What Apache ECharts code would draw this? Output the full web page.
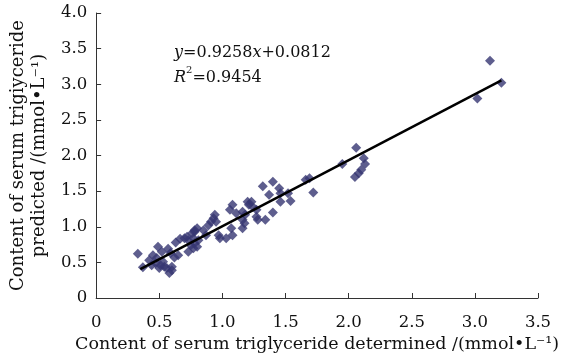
<!DOCTYPE html>
<html>
<head>
<meta charset="utf-8">
<script src="https://cdn.jsdelivr.net/npm/echarts@6/dist/echarts.min.js"></script>
<style>
  html, body { margin: 0; padding: 0; background: #fff; }
  #chart { width: 572px; height: 361px; }
</style>
</head>
<body>
<div id="chart"></div>
<script>
// measured vs predicted serum triglyceride, mmol/L
const determined = [
  0.33, 0.37, 0.42, 0.44, 0.45, 0.47, 0.48, 0.49, 0.50, 0.51,
  0.52, 0.53, 0.54, 0.56, 0.57, 0.58, 0.59, 0.60, 0.60, 0.62,
  0.63, 0.65, 0.665, 0.70, 0.72, 0.73, 0.73, 0.75, 0.76, 0.77,
  0.77, 0.78, 0.78, 0.78, 0.80, 0.80, 0.81, 0.85, 0.87, 0.89,
  0.91, 0.93, 0.94, 0.95, 0.97, 0.98, 1.03, 1.06, 1.07, 1.08,
  1.08, 1.11, 1.16, 1.16, 1.16, 1.175, 1.18, 1.20, 1.21, 1.23,
  1.24, 1.27, 1.27, 1.28, 1.32, 1.34, 1.37, 1.40, 1.40, 1.45,
  1.46, 1.46, 1.52, 1.54, 1.66, 1.69, 1.72, 1.95, 2.05, 2.06,
  2.08, 2.10, 2.12, 2.13, 3.02, 3.12, 3.21
];
const predicted = [
  0.62, 0.43, 0.53, 0.46, 0.60, 0.49, 0.56, 0.72, 0.42, 0.46,
  0.65, 0.51, 0.44, 0.42, 0.69, 0.35, 0.63, 0.39, 0.44, 0.57,
  0.78, 0.60, 0.83, 0.84, 0.86, 0.65, 0.81, 0.74, 0.91, 0.70,
  0.84, 0.95, 0.77, 0.93, 0.72, 0.98, 0.81, 0.95, 0.88, 1.02,
  1.07, 1.12, 1.17, 1.07, 0.88, 0.84, 0.84, 1.24, 0.98, 1.31,
  0.88, 1.19, 1.21, 0.98, 1.10, 1.05, 1.17, 1.35, 1.31, 1.35,
  1.28, 1.24, 1.14, 1.10, 1.57, 1.10, 1.45, 1.63, 1.20, 1.54,
  1.47, 1.35, 1.47, 1.36, 1.66, 1.68, 1.48, 1.88, 1.70, 2.11,
  1.75, 1.80, 1.96, 1.88, 2.80, 3.33, 3.02
];
const slope = 0.9258;
const intercept = 0.0812;
const fitRange = [0.35, 3.21];
const xTicks = ['0', '0.5', '1.0', '1.5', '2.0', '2.5', '3.0', '3.5'];
const yTicks = ['0', '0.5', '1.0', '1.5', '2.0', '2.5', '3.0', '3.5', '4.0'];

const points = determined.map((x, i) => [x, predicted[i]]);
const fitLine = fitRange.map(x => [x, slope * x + intercept]);

const font = 'DejaVu Serif';
const chart = echarts.init(document.getElementById('chart'));

chart.setOption({
  animation: false,
  backgroundColor: '#fff',
  grid: { left: 92, right: 34, top: 13, bottom: 63 },
  xAxis: {
    type: 'value', min: 0, max: 3.5, interval: 0.5,
    name: 'Content of serum triglyceride determined /(mmol\u2022L\u207B\u00B9)',
    nameLocation: 'middle', nameGap: 27,
    nameTextStyle: { fontFamily: font, fontSize: 17.5, color: '#111' },
    axisLine: { lineStyle: { color: '#333', width: 1 } },
    axisTick: { inside: true, length: 5, lineStyle: { color: '#333' } },
    axisLabel: {
      fontFamily: font, fontSize: 16.5, color: '#111', margin: 16,
      formatter: (v, i) => xTicks[i]
    },
    splitLine: { show: false }
  },
  yAxis: {
    type: 'value', min: 0, max: 4, interval: 0.5,
    name: 'Content of serum trigiyceride\npredicted /(mmol\u2022L\u207B\u00B9)',
    nameLocation: 'middle', nameGap: 45,
    nameTextStyle: { fontFamily: font, fontSize: 18, color: '#111', lineHeight: 21 },
    axisLine: { show: true, lineStyle: { color: '#333', width: 1 } },
    axisTick: { show: true, inside: true, length: 5, lineStyle: { color: '#333' } },
    axisLabel: {
      fontFamily: font, fontSize: 16.5, color: '#111', margin: 9,
      formatter: (v, i) => yTicks[i]
    },
    splitLine: { show: false }
  },
  graphic: [{
    type: 'text', left: 174, top: 40,
    style: {
      text: '{i|y}=0.9258{i|x}+0.0812\n{i|R}{s|2}=0.9454',
      fontFamily: font, fontSize: 16, fill: '#111', lineHeight: 25,
      rich: {
        i: { fontFamily: font, fontSize: 16, fontStyle: 'italic', fill: '#111' },
        s: { fontFamily: font, fontSize: 10, fill: '#111', verticalAlign: 'top', padding: [0, 0, 8, 0] }
      }
    }
  }],
  series: [{
    type: 'scatter',
    data: points,
    symbol: 'diamond',
    symbolSize: 10,
    itemStyle: { color: '#363672' },
    z: 2
  }, {
    type: 'line',
    data: fitLine,
    symbol: 'none',
    lineStyle: { color: '#000', width: 2.5 },
    z: 3
  }]
});
</script>
</body>
</html>
